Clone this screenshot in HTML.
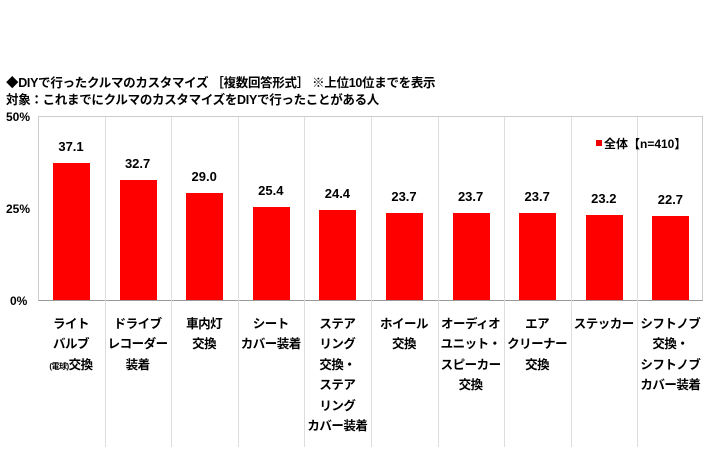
<!DOCTYPE html><html><head><meta charset="utf-8"><style>
body{margin:0;width:710px;height:474px;background:#fff;overflow:hidden;font-family:"Liberation Sans","Noto Sans CJK JP",sans-serif;font-weight:bold;color:#000}
.a{position:absolute;white-space:nowrap}
.lab{position:absolute;width:66px;text-align:center;font-size:12.5px;line-height:20.4px;top:314px;letter-spacing:-0.5px;white-space:nowrap}
.v{position:absolute;width:66px;text-align:center;font-size:13px}
.bar{position:absolute;width:37px;background:#f00}
</style></head><body>
<div class="a" style="left:6px;top:72px;font-size:12.5px;letter-spacing:-0.3px">◆DIYで行ったクルマのカスタマイズ ［複数回答形式］ ※上位10位までを表示</div>
<div class="a" style="left:6px;top:89px;font-size:12.5px;letter-spacing:-0.3px">対象：これまでにクルマのカスタマイズをDIYで行ったことがある人</div>
<div class="a" style="left:6px;top:110px;font-size:12px">50%</div>
<div class="a" style="left:6px;top:202px;font-size:12px">25%</div>
<div class="a" style="left:10px;top:294px;font-size:12px">0%</div>
<div style="position:absolute;left:38px;top:116px;width:665px;height:185px;border:1px solid #ccc;border-bottom:1px solid #999;box-sizing:border-box"></div>
<div id="g"></div>
<div class="a" style="left:596px;top:135px;font-size:12px"><span style="display:inline-block;width:6px;height:6px;background:#e00;margin-right:2px;vertical-align:2px"></span>全体【n=410】</div>
<script>
var vals=[37.1,32.7,29.0,25.4,24.4,23.7,23.7,23.7,23.2,22.7];
var labs=["ライト<br>バルブ<br><span style='font-size:8px'>(電球)</span>交換","ドライブ<br>レコーダー<br>装着","車内灯<br>交換","シート<br>カバー装着","ステア<br>リング<br>交換・<br>ステア<br>リング<br>カバー装着","ホイール<br>交換","オーディオ<br>ユニット・<br>スピーカー<br>交換","エア<br>クリーナー<br>交換","ステッカー","シフトノブ<br>交換・<br>シフトノブ<br>カバー装着"];
var h="";
for(var i=0;i<10;i++){var x0=38+i*66.6;
if(i>0)h+="<div style='position:absolute;left:"+x0+"px;top:117px;width:1px;height:330px;background:#ddd'></div>";
var bh=vals[i]*3.68;
h+="<div class='bar' style='left:"+(x0+15)+"px;top:"+(300-bh)+"px;height:"+bh+"px'></div>";
h+="<div class='v' style='left:"+x0+"px;top:"+(300-bh-24)+"px'>"+vals[i].toFixed(1)+"</div>";
h+="<div class='lab' style='left:"+x0+"px'>"+labs[i]+"</div>";}
document.getElementById("g").innerHTML=h;
</script>
</body></html>
